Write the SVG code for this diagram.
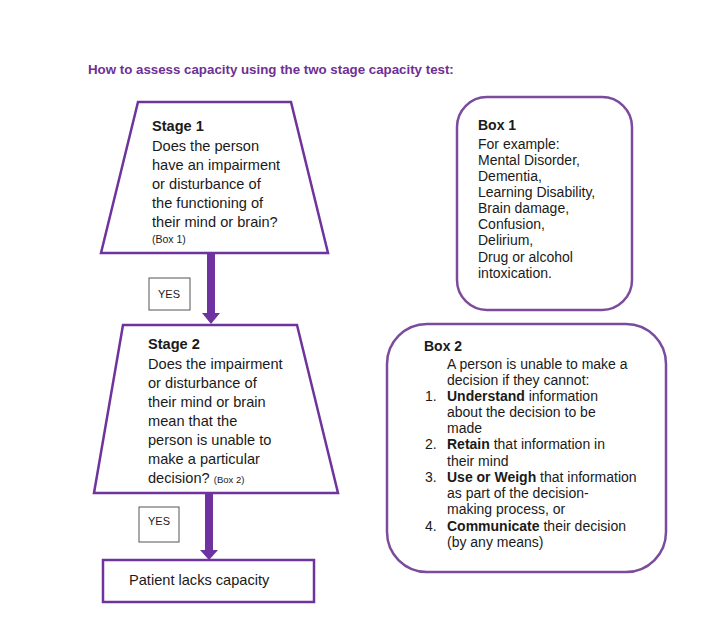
<svg xmlns="http://www.w3.org/2000/svg" width="704" height="628" viewBox="0 0 704 628">
<style>
text{font-family:"Liberation Sans",Arial,sans-serif;fill:#1a1a1a}
.t{font-size:14px}
.L{font-size:14.6px}
.b{font-weight:bold}
.title{font-size:13.3px;font-weight:bold;fill:#6e2f96}
.shape{fill:#fff;stroke:#6e339c;stroke-width:2.5}
.box{fill:#fff;stroke:#7b4c9e;stroke-width:2.5}
.yes{fill:#fff;stroke:#555;stroke-width:1}
.arrow{fill:#6e33a0;stroke:none}
</style>
<rect width="704" height="628" fill="#fff"/>
<text class="title" x="88" y="74">How to assess capacity using the two stage capacity test:</text>

<g id="connectors">
<path class="arrow" d="M207 253 H215 V313 H220 L211 324 L202 313 H207 Z"/>
<path class="arrow" d="M205 493 H213 V550 H218 L209 560 L200 550 H205 Z"/>
</g>

<g id="stage1">
<polygon class="shape" points="138,102 291,102 328,253 101,253"/>
<text class="L b" x="152" y="131">Stage 1</text>
<text class="L" x="152" y="151">Does the person</text>
<text class="L" x="152" y="170">have an impairment</text>
<text class="L" x="152" y="189">or disturbance of</text>
<text class="L" x="152" y="208">the functioning of</text>
<text class="L" x="152" y="227">their mind or brain?</text>
<text x="152" y="243" style="font-size:10.5px">(Box 1)</text>
</g>

<g id="yes1">
<rect class="yes" x="149" y="278" width="41" height="32"/>
<text x="158" y="298" style="font-size:11px">YES</text>
</g>

<g id="stage2">
<polygon class="shape" points="123,325 297,325 338,493 94,493"/>
<text class="L b" x="148" y="349">Stage 2</text>
<text class="L" x="148" y="369">Does the impairment</text>
<text class="L" x="148" y="388">or disturbance of</text>
<text class="L" x="148" y="407">their mind or brain</text>
<text class="L" x="148" y="426">mean that the</text>
<text class="L" x="148" y="445">person is unable to</text>
<text class="L" x="148" y="464">make a particular</text>
<text class="L" x="148" y="483">decision? <tspan style="font-size:9.5px">(Box 2)</tspan></text>
</g>

<g id="yes2">
<rect class="yes" x="139" y="507" width="40" height="35"/>
<text x="148" y="525" style="font-size:11px">YES</text>
</g>

<g id="outcome">
<rect class="shape" x="103" y="560" width="211" height="42"/>
<text class="L" x="129" y="585">Patient lacks capacity</text>
</g>

<g id="box1">
<rect class="box" x="457" y="97" width="175" height="213" rx="30" ry="30"/>
<text class="t b" x="478" y="130">Box 1</text>
<text class="t" x="478" y="149">For example:</text>
<text class="t" x="478" y="165">Mental Disorder,</text>
<text class="t" x="478" y="181">Dementia,</text>
<text class="t" x="478" y="197">Learning Disability,</text>
<text class="t" x="478" y="213">Brain damage,</text>
<text class="t" x="478" y="229">Confusion,</text>
<text class="t" x="478" y="245">Delirium,</text>
<text class="t" x="478" y="262">Drug or alcohol</text>
<text class="t" x="478" y="278">intoxication.</text>
</g>

<g id="box2">
<rect class="box" x="387" y="324" width="279" height="248" rx="40" ry="40"/>
<text class="t b" x="424" y="351">Box 2</text>
<text class="t" x="447" y="369">A person is unable to make a</text>
<text class="t" x="447" y="385">decision if they cannot:</text>
<text class="t" x="425" y="401">1.</text>
<text class="t" x="447" y="401"><tspan class="b">Understand</tspan> information</text>
<text class="t" x="447" y="417">about the decision to be</text>
<text class="t" x="447" y="433">made</text>
<text class="t" x="425" y="449">2.</text>
<text class="t" x="447" y="449"><tspan class="b">Retain</tspan> that information in</text>
<text class="t" x="447" y="466">their mind</text>
<text class="t" x="425" y="482">3.</text>
<text class="t" x="447" y="482"><tspan class="b">Use or Weigh</tspan> that information</text>
<text class="t" x="447" y="498">as part of the decision-</text>
<text class="t" x="447" y="514">making process, or</text>
<text class="t" x="425" y="531">4.</text>
<text class="t" x="447" y="531"><tspan class="b">Communicate</tspan> their decision</text>
<text class="t" x="447" y="547">(by any means)</text>
</g>
</svg>
